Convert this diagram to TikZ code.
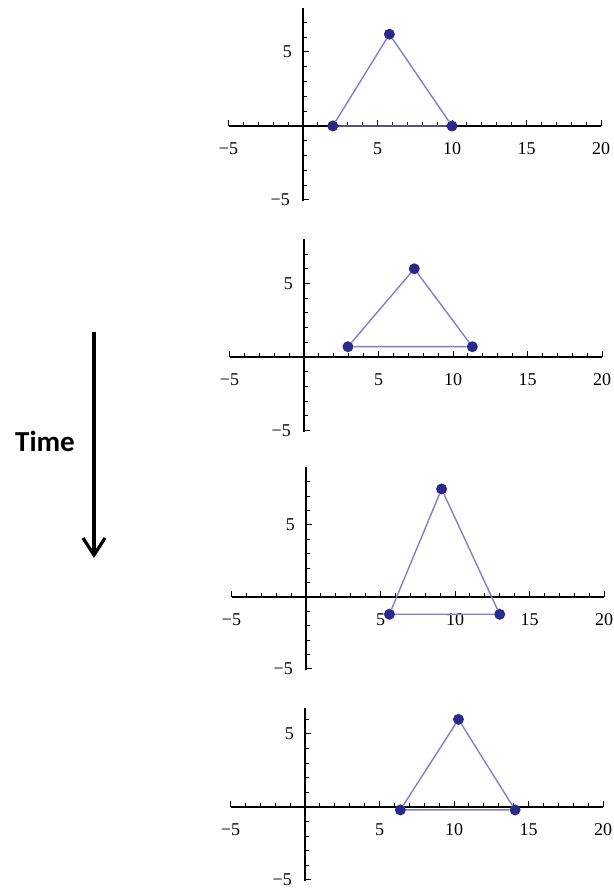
\documentclass[tikz,border=0pt]{standalone}
\usepackage{fontspec}
\setmainfont{Liberation Serif}
\newfontfamily\timefont{Carlito}
\usetikzlibrary{arrows.meta}
\definecolor{triline}{RGB}{128,128,200}
\definecolor{tridot}{RGB}{42,42,140}
\tikzset{
  axisline/.style={line width=1.4pt, black},
  tickmark/.style={line width=1pt, black},
  ticklab/.style={font=\fontsize{18}{18}\selectfont, inner sep=0pt},
  triedge/.style={line width=1.4pt, triline},
  vertex/.style={circle, fill=tridot, inner sep=0pt, minimum size=11pt},
  timearrow/.style={line width=3.2pt, -{Straight Barb[length=17pt,width=22pt]}},
  timelabel/.style={font=\timefont\bfseries\fontsize{29}{29}\selectfont, inner sep=0pt},
}
% #1 ox, #2 oy, #3 y unit, #4 ytop, #5 prefix, #6 A, #7 B, #8 C
\newcommand{\mypanel}[8]{%
\begin{scope}[shift={(#1pt,#2pt)}, x=14.9pt, y=#3pt]
  \draw[axisline] (-5,0) -- (20,0);
  \draw[axisline] (0,-5.1) -- (0,#4);
  \foreach \i in {-4,-3,-2,-1,1,2,3,4,6,7,8,9,11,12,13,14,16,17,18,19}
    \draw[tickmark] (\i,0) -- ++(0,3.5pt);
  \foreach \i in {-5,5,10,15,20}
    \draw[tickmark] (\i,0) -- ++(0,6pt);
  \foreach \j in {-4,-3,-2,-1,1,2,3,4,6,7,8,9}
    {\ifdim \j pt<#4pt \draw[tickmark] (0,\j) -- ++(3.5pt,0);\fi}
  \draw[tickmark] (0,5) -- ++(6pt,0);
  \draw[tickmark] (0,-5) -- ++(6pt,0);
  \foreach \i/\t in {-5/−5,5/5,10/10,15/15,20/20}
    \node[ticklab, anchor=base] (#5x\i) at (\i,0) [yshift=-29pt] {\t};
  \node[ticklab, anchor=east] (#5yp) at (0,5) [xshift=-11pt] {5};
  \node[ticklab, anchor=east] (#5ym) at (0,-5) [xshift=-13pt] {−5};
  \node[vertex] (#5a) at (#6) {};
  \node[vertex] (#5b) at (#7) {};
  \node[vertex] (#5c) at (#8) {};
  \draw[triedge] (#5a) -- (#5b) -- (#5c) -- (#5a);
\end{scope}}

\begin{document}
\begin{tikzpicture}[x=1pt,y=1pt]
  \useasboundingbox (0,0) rectangle (613,890);
  \mypanel{303}{764}{14.8}{8.0}{pA}{2,0}{10,0}{5.8,6.2}
  \mypanel{304}{533}{14.7}{8.0}{pB}{2.95,0.7}{11.3,0.7}{7.4,6.0}
  \mypanel{306}{293}{14.4}{9.0}{pC}{5.6,-1.2}{13.0,-1.2}{9.1,7.5}
  \mypanel{305}{83}{14.6}{6.8}{pD}{6.4,-0.2}{14.1,-0.2}{10.3,6.0}
  \coordinate (arrtop) at (94,558);
  \coordinate (arrbot) at (94,332);
  \draw[timearrow] (arrtop) -- (arrbot);
  \node[timelabel] (time) at (45,449) {Time};
\end{tikzpicture}
\end{document}
